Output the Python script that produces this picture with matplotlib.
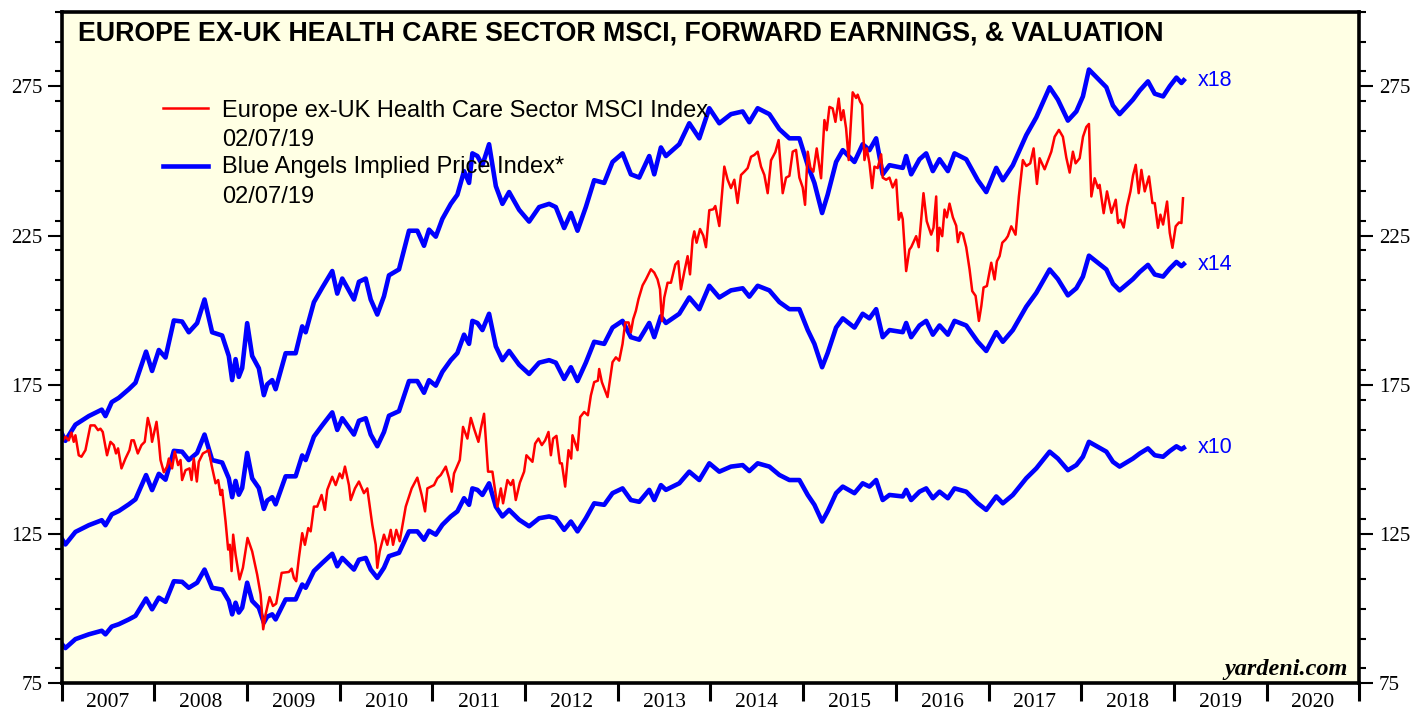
import matplotlib
matplotlib.use("Agg")
import matplotlib.pyplot as plt
import numpy as np
from matplotlib.ticker import MultipleLocator, FixedLocator, NullFormatter

# MSCI Europe ex-UK health care index (weekly)
red_years = [2007.003, 2007.040, 2007.076, 2007.105, 2007.130, 2007.148, 2007.184, 2007.213, 2007.256, 2007.310,
             2007.356, 2007.392, 2007.418, 2007.443, 2007.489, 2007.526, 2007.562, 2007.586, 2007.608, 2007.645,
             2007.688, 2007.731, 2007.753, 2007.778, 2007.821, 2007.861, 2007.896, 2007.929, 2007.958, 2007.975,
             2008.023, 2008.048, 2008.066, 2008.102, 2008.137, 2008.156, 2008.191, 2008.220, 2008.256, 2008.282,
             2008.299, 2008.336, 2008.379, 2008.401, 2008.425, 2008.458, 2008.479, 2008.523, 2008.587, 2008.617,
             2008.660, 2008.688, 2008.714, 2008.731, 2008.768, 2008.796, 2008.814, 2008.833, 2008.850, 2008.876,
             2008.919, 2008.955, 2009.005, 2009.055, 2009.109, 2009.146, 2009.174, 2009.200, 2009.243, 2009.279,
             2009.314, 2009.373, 2009.451, 2009.481, 2009.505, 2009.530, 2009.559, 2009.595, 2009.624, 2009.660,
             2009.686, 2009.721, 2009.757, 2009.804, 2009.840, 2009.865, 2009.919, 2009.956, 2009.999, 2010.027,
             2010.056, 2010.099, 2010.118, 2010.164, 2010.207, 2010.261, 2010.297, 2010.351, 2010.388, 2010.405,
             2010.431, 2010.477, 2010.513, 2010.550, 2010.575, 2010.610, 2010.647, 2010.712, 2010.776, 2010.837,
             2010.884, 2010.920, 2010.945, 2011.017, 2011.053, 2011.090, 2011.144, 2011.179, 2011.208, 2011.233,
             2011.295, 2011.330, 2011.377, 2011.414, 2011.449, 2011.496, 2011.522, 2011.557, 2011.600, 2011.647,
             2011.701, 2011.738, 2011.762, 2011.809, 2011.845, 2011.870, 2011.899, 2011.943, 2011.989, 2012.014,
             2012.079, 2012.108, 2012.144, 2012.180, 2012.216, 2012.252, 2012.278, 2012.302, 2012.338, 2012.375,
             2012.396, 2012.432, 2012.468, 2012.497, 2012.511, 2012.547, 2012.565, 2012.594, 2012.637, 2012.677,
             2012.709, 2012.745, 2012.785, 2012.799, 2012.828, 2012.889, 2012.943, 2012.979, 2013.015, 2013.051,
             2013.080, 2013.116, 2013.141, 2013.166, 2013.195, 2013.223, 2013.267, 2013.303, 2013.357, 2013.393,
             2013.429, 2013.455, 2013.476, 2013.501, 2013.537, 2013.573, 2013.620, 2013.652, 2013.681, 2013.717,
             2013.753, 2013.779, 2013.807, 2013.825, 2013.850, 2013.887, 2013.922, 2013.951, 2013.987, 2014.030,
             2014.052, 2014.095, 2014.149, 2014.185, 2014.221, 2014.257, 2014.292, 2014.329, 2014.365, 2014.401,
             2014.437, 2014.473, 2014.509, 2014.545, 2014.581, 2014.617, 2014.653, 2014.700, 2014.735, 2014.779,
             2014.815, 2014.851, 2014.887, 2014.923, 2014.959, 2014.995, 2015.020, 2015.049, 2015.078, 2015.110,
             2015.146, 2015.193, 2015.229, 2015.254, 2015.283, 2015.318, 2015.348, 2015.383, 2015.409, 2015.434,
             2015.463, 2015.491, 2015.534, 2015.571, 2015.588, 2015.614, 2015.636, 2015.661, 2015.686, 2015.715,
             2015.744, 2015.769, 2015.804, 2015.841, 2015.858, 2015.895, 2015.931, 2015.966, 2016.003, 2016.031,
             2016.057, 2016.074, 2016.111, 2016.146, 2016.165, 2016.219, 2016.247, 2016.298, 2016.333, 2016.381,
             2016.406, 2016.435, 2016.452, 2016.471, 2016.500, 2016.525, 2016.550, 2016.579, 2016.615, 2016.651,
             2016.669, 2016.694, 2016.723, 2016.759, 2016.795, 2016.824, 2016.860, 2016.896, 2016.922, 2016.946,
             2016.982, 2017.029, 2017.065, 2017.090, 2017.119, 2017.148, 2017.184, 2017.208, 2017.245, 2017.291,
             2017.327, 2017.370, 2017.407, 2017.450, 2017.486, 2017.522, 2017.551, 2017.605, 2017.677, 2017.713,
             2017.759, 2017.802, 2017.839, 2017.875, 2017.910, 2017.939, 2017.983, 2018.019, 2018.055, 2018.083,
             2018.109, 2018.145, 2018.181, 2018.198, 2018.242, 2018.278, 2018.326, 2018.372, 2018.397, 2018.423,
             2018.458, 2018.494, 2018.531, 2018.559, 2018.588, 2018.620, 2018.649, 2018.685, 2018.731, 2018.768,
             2018.793, 2018.828, 2018.854, 2018.883, 2018.926, 2018.955, 2018.984, 2019.019, 2019.055, 2019.081,
             2019.098]
red_vals = [155.9, 157.6, 156.4, 159.0, 155.9, 158.1, 151.4, 150.9, 153.1, 161.4,
            161.4, 159.8, 160.3, 159.2, 151.4, 155.9, 154.8, 152.0, 153.7, 147.0,
            150.3, 153.1, 156.4, 156.4, 152.0, 154.8, 155.9, 163.9, 160.3, 155.9,
            162.6, 155.9, 149.8, 145.7, 147.6, 150.3, 147.0, 152.6, 148.1, 149.8,
            143.1, 146.4, 147.0, 143.1, 150.3, 142.6, 149.2, 152.0, 153.1, 148.1,
            142.0, 143.1, 138.1, 139.8, 129.2, 119.8, 121.4, 112.6, 124.8, 118.1,
            109.8, 113.7, 123.7, 119.2, 111.4, 104.8, 93.1, 98.1, 103.9, 100.9,
            101.7, 112.0, 112.3, 113.4, 110.3, 109.2, 117.0, 125.3, 121.4, 127.0,
            125.9, 134.2, 134.2, 138.1, 133.1, 139.8, 144.2, 141.4, 145.3, 143.7,
            147.6, 141.4, 136.4, 140.3, 142.6, 138.7, 140.3, 128.1, 121.4, 113.7,
            119.2, 124.8, 121.4, 126.4, 121.4, 126.4, 122.6, 134.2, 140.3, 143.9,
            138.1, 132.6, 140.3, 141.4, 143.7, 144.8, 147.6, 143.7, 139.2, 145.3,
            149.8, 160.9, 157.0, 163.9, 160.3, 155.9, 160.3, 165.3, 145.9, 145.9,
            134.2, 140.3, 135.3, 143.1, 141.4, 143.1, 136.4, 142.2, 145.9, 151.4,
            149.2, 155.3, 157.0, 154.8, 156.4, 159.2, 151.4, 157.0, 157.9, 148.7,
            148.7, 140.9, 153.1, 150.3, 158.1, 154.8, 153.1, 164.2, 165.9, 164.8,
            171.4, 175.9, 176.4, 180.3, 175.9, 170.9, 182.6, 184.2, 183.1, 188.7,
            195.9, 195.9, 192.6, 197.0, 199.8, 203.7, 208.3, 210.3, 213.7, 212.6,
            210.3, 207.0, 196.4, 204.2, 209.2, 209.2, 215.3, 216.4, 207.0, 212.8,
            218.1, 212.0, 223.7, 226.4, 222.6, 227.2, 225.0, 221.1, 233.5, 233.8,
            234.9, 228.2, 248.1, 243.7, 240.9, 243.7, 235.9, 245.3, 246.4, 247.6,
            251.4, 252.0, 253.1, 248.1, 245.3, 239.2, 250.2, 253.0, 257.0, 239.2,
            244.4, 245.0, 253.1, 253.7, 244.4, 241.1, 235.3, 253.1, 247.7, 246.4,
            254.2, 244.2, 263.7, 260.3, 268.1, 267.6, 263.1, 270.9, 263.7, 267.0,
            260.9, 250.3, 273.0, 271.1, 272.2, 269.9, 268.8, 250.3, 254.2, 249.2,
            240.9, 248.1, 247.6, 252.2, 244.4, 243.7, 244.4, 241.1, 243.7, 230.3,
            232.6, 230.5, 213.1, 220.3, 221.1, 224.8, 221.1, 239.2, 229.8, 225.3,
            227.6, 238.1, 219.8, 227.6, 224.8, 233.7, 231.1, 235.7, 231.1, 228.3,
            222.8, 226.1, 225.6, 221.1, 213.7, 206.4, 204.8, 196.4, 201.4, 207.6,
            208.1, 215.9, 210.3, 216.4, 218.1, 222.6, 223.7, 224.8, 228.1, 225.3,
            238.1, 250.3, 248.3, 249.2, 254.2, 242.3, 250.9, 247.2, 253.1, 258.1,
            260.4, 258.1, 251.1, 246.1, 253.1, 249.2, 250.9, 258.1, 261.4, 262.4,
            238.1, 244.2, 240.9, 242.0, 232.5, 239.8, 232.6, 237.0, 229.2, 230.3,
            227.7, 234.8, 239.8, 245.2, 248.7, 239.2, 247.0, 239.8, 244.8, 235.9,
            235.9, 227.6, 232.0, 228.7, 236.4, 225.9, 220.9, 228.1, 229.4, 229.2,
            237.5]

# forward earnings (the x10 line divided by 10)
eps_years = [2007.003, 2007.040, 2007.148, 2007.292, 2007.432, 2007.472, 2007.540, 2007.616, 2007.724, 2007.796,
             2007.910, 2007.975, 2008.048, 2008.120, 2008.210, 2008.299, 2008.371, 2008.461, 2008.541, 2008.623,
             2008.731, 2008.803, 2008.839, 2008.876, 2008.911, 2008.947, 2009.001, 2009.055, 2009.127, 2009.181,
             2009.217, 2009.271, 2009.308, 2009.416, 2009.524, 2009.595, 2009.632, 2009.721, 2009.811, 2009.919,
             2009.973, 2010.027, 2010.153, 2010.207, 2010.280, 2010.334, 2010.405, 2010.477, 2010.531, 2010.639,
             2010.747, 2010.837, 2010.909, 2010.963, 2011.036, 2011.107, 2011.198, 2011.269, 2011.341, 2011.395,
             2011.431, 2011.485, 2011.539, 2011.611, 2011.684, 2011.755, 2011.827, 2011.935, 2012.043, 2012.151,
             2012.259, 2012.331, 2012.421, 2012.494, 2012.565, 2012.655, 2012.745, 2012.853, 2012.943, 2013.051,
             2013.141, 2013.231, 2013.339, 2013.393, 2013.465, 2013.519, 2013.663, 2013.771, 2013.879, 2013.987,
             2014.095, 2014.221, 2014.347, 2014.419, 2014.509, 2014.635, 2014.743, 2014.851, 2014.959, 2015.049,
             2015.121, 2015.204, 2015.264, 2015.355, 2015.427, 2015.553, 2015.642, 2015.715, 2015.787, 2015.858,
             2015.931, 2016.074, 2016.111, 2016.165, 2016.255, 2016.327, 2016.399, 2016.471, 2016.561, 2016.633,
             2016.759, 2016.884, 2016.975, 2017.083, 2017.154, 2017.262, 2017.407, 2017.515, 2017.587, 2017.659,
             2017.748, 2017.856, 2017.947, 2018.018, 2018.083, 2018.180, 2018.271, 2018.342, 2018.414, 2018.558,
             2018.631, 2018.720, 2018.793, 2018.883, 2018.955, 2019.027, 2019.081, 2019.106]
fwd_eps = [8.81, 8.68, 8.98, 9.14, 9.26, 9.14, 9.40, 9.48, 9.64, 9.76,
           10.34, 9.98, 10.37, 10.23, 10.92, 10.90, 10.70, 10.87, 11.31, 10.70,
           10.64, 10.26, 9.81, 10.20, 9.87, 10.03, 10.87, 10.26, 10.03, 9.53,
           9.73, 9.81, 9.64, 10.31, 10.31, 10.81, 10.70, 11.26, 11.53, 11.84,
           11.42, 11.70, 11.31, 11.64, 11.70, 11.31, 11.03, 11.37, 11.76, 11.87,
           12.59, 12.59, 12.31, 12.61, 12.48, 12.81, 13.09, 13.26, 13.70, 13.48,
           14.03, 13.98, 13.81, 14.20, 13.42, 13.09, 13.31, 12.98, 12.76, 13.03,
           13.09, 13.03, 12.64, 12.92, 12.59, 13.03, 13.53, 13.48, 13.87, 14.03,
           13.64, 13.58, 13.98, 13.64, 14.14, 13.98, 14.20, 14.59, 14.31, 14.87,
           14.59, 14.76, 14.81, 14.61, 14.87, 14.76, 14.48, 14.31, 14.31, 13.81,
           13.48, 12.92, 13.26, 13.87, 14.09, 13.87, 14.20, 14.09, 14.31, 13.64,
           13.81, 13.76, 13.98, 13.64, 13.92, 14.03, 13.70, 13.92, 13.70, 14.03,
           13.92, 13.53, 13.31, 13.76, 13.53, 13.81, 14.37, 14.70, 14.98, 15.26,
           15.03, 14.64, 14.81, 15.09, 15.59, 15.42, 15.26, 14.92, 14.76, 15.03,
           15.20, 15.37, 15.14, 15.09, 15.28, 15.44, 15.34, 15.39]

multiples = [10, 14, 18]
multiple_labels = ["x10", "x14", "x18"]

years = list(range(2007, 2021))

BLUE = "#0000ff"
RED = "#ff0000"
SANS = ["Liberation Sans", "DejaVu Sans"]
SERIF = ["Liberation Serif", "DejaVu Serif"]

W, H = 1414, 713
fig = plt.figure(figsize=(W / 100, H / 100), dpi=100)
fig.patch.set_facecolor("white")
x0, x1, y_top, y_bot = 61.7, 1359.3, 11.7, 683.3
ax = fig.add_axes([x0 / W, 1 - y_bot / H, (x1 - x0) / W, (y_bot - y_top) / H])
ax.set_facecolor("#ffffe4")

eps = np.array(fwd_eps)
for m, lab in zip(multiples, multiple_labels):
    ax.plot(eps_years, eps * m, color=BLUE, lw=3.3, solid_joinstyle="round", zorder=3)
    ax.annotate(lab, xy=(eps_years[-1], eps[-1] * m), xytext=(10, 0), textcoords="offset points",
                color=BLUE, fontsize=15.5, family=SANS, va="center", ha="left")
ax.plot(red_years, red_vals, color=RED, lw=1.8, zorder=4)

ax.set_xlim(2007, 2021)
ax.set_ylim(75, 300)

# y axis: ticks on both sides
ax.yaxis.set_major_locator(FixedLocator([75, 125, 175, 225, 275]))
ax.yaxis.set_minor_locator(MultipleLocator(10))
ax.tick_params(axis="y", which="major", direction="out", length=10, width=1.5, left=True, right=True,
               labelleft=True, labelright=True, labelsize=15, pad=4)
ax.tick_params(axis="y", which="minor", direction="out", length=5, width=1.5, left=True, right=True)
for lab in ax.get_yticklabels():
    lab.set_family(SERIF)

# x axis: long ticks at year boundaries, labels centred in each year
ax.xaxis.set_major_locator(FixedLocator(years + [2021]))
ax.xaxis.set_major_formatter(NullFormatter())
ax.xaxis.set_minor_locator(FixedLocator([y + 0.5 for y in years]))
ax.set_xticklabels([str(y) for y in years], minor=True)
ax.tick_params(axis="x", which="major", direction="out", length=13, width=2.2)
ax.tick_params(axis="x", which="minor", length=0, labelsize=15.5, pad=7)
for lab in ax.get_xticklabels(minor=True):
    lab.set_family(SERIF)

for sp in ax.spines.values():
    sp.set_linewidth(2.6)
    sp.set_zorder(6)

# title inside the plot
ax.text(0.0128, 0.9564, "EUROPE EX-UK HEALTH CARE SECTOR MSCI, FORWARD EARNINGS, & VALUATION",
        transform=ax.transAxes, fontsize=19.3, fontweight="bold", family=SANS, ha="left", va="baseline")

# legend drawn by hand
ax.plot([0.078, 0.1127], [0.8566, 0.8566], transform=ax.transAxes, color=RED, lw=1.8)
ax.plot([0.078, 0.1127], [0.7707, 0.7707], transform=ax.transAxes, color=BLUE, lw=3.3)
legend_lines = [("Europe ex-UK Health Care Sector MSCI Index", 0.8437),
                ("02/07/19", 0.8000),
                ("Blue Angels Implied Price Index*", 0.7594),
                ("02/07/19", 0.7156)]
for txt, yy in legend_lines:
    ax.text(0.1235, yy, txt, transform=ax.transAxes, fontsize=17, family=SANS, ha="left", va="baseline")

ax.text(0.9913, 0.0124, "yardeni.com", transform=ax.transAxes, fontsize=17.5, family=SERIF,
        fontweight="bold", fontstyle="italic", ha="right", va="baseline", zorder=7)

fig.savefig("out.png", dpi=100)
